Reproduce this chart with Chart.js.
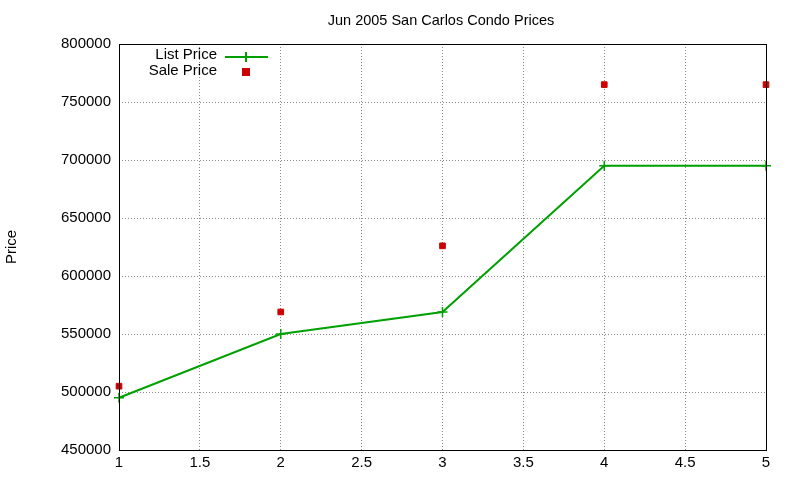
<!DOCTYPE html>
<html><head><meta charset="utf-8">
<script src="https://cdn.jsdelivr.net/npm/chart.js@4"></script>
<style>html,body{margin:0;padding:0;background:#fff}#w{width:800px;height:480px}</style>
</head><body><div id="w"><canvas id="c"></canvas></div>
<script>
const xValues=[1,2,3,4,5];
const listPrice=[495000,550000,569000,695000,695000];
const salePrice=[505000,569000,626000,765000,765000];
const yTicks=[450000,500000,550000,600000,650000,700000,750000,800000];
const xTicks=[1,1.5,2,2.5,3,3.5,4,4.5,5];
const F="'Liberation Sans', Arial, sans-serif";
const deco={id:'deco',afterDraw(ch){
 const c=ch.ctx,a=ch.chartArea;
 c.save();
 c.strokeStyle='#000';c.lineWidth=1;c.strokeRect(a.left+0.5,a.top+0.5,a.right-a.left,a.bottom-a.top);
 c.fillStyle='#000';c.font='14.5px '+F;c.textAlign='center';c.textBaseline='middle';
 c.fillText('Jun 2005 San Carlos Condo Prices',441,21);
 c.translate(12,247);c.rotate(-Math.PI/2);c.font='15px '+F;c.fillText('Price',0,0);
 c.restore();c.save();
 c.font='15px '+F;c.textAlign='right';c.textBaseline='middle';c.fillStyle='#000';
 c.fillText('List Price',217,55);c.fillText('Sale Price',217,71);
 c.strokeStyle='#00a000';c.lineWidth=2;c.beginPath();c.moveTo(225,57);c.lineTo(268,57);
 c.moveTo(246,52);c.lineTo(246,62);c.stroke();
 c.fillStyle='#cc0000';c.fillRect(242,68,8,8);
 c.restore();
}};
new Chart(document.getElementById('c'),{
 data:{datasets:[
  {type:'line',label:'List Price',data:xValues.map((x,i)=>({x,y:listPrice[i]})),borderColor:'#00a000',backgroundColor:'#00a000',borderWidth:2,pointStyle:'cross',pointRadius:5,pointBorderWidth:1.5,tension:0,clip:false},
  {type:'scatter',label:'Sale Price',data:xValues.map((x,i)=>({x,y:salePrice[i]})),backgroundColor:'#cc0000',borderColor:'#cc0000',pointStyle:'rect',pointRadius:4,clip:false}
 ]},
 plugins:[deco],
 options:{responsive:true,maintainAspectRatio:false,animation:false,
  layout:{padding:{top:44,right:34,left:0,bottom:0}},
  plugins:{legend:{display:false},tooltip:{enabled:false}},
  scales:{
   x:{type:'linear',min:1,max:5,afterBuildTicks:s=>{s.ticks=xTicks.map(v=>({value:v}))},
    afterFit:s=>{s.height=30},
    grid:{color:'#888',drawTicks:false},border:{display:false,dash:[1,2]},
    ticks:{color:'#000',font:{family:F,size:15},padding:4,maxRotation:0,callback:v=>String(v)}},
   y:{min:450000,max:800000,afterBuildTicks:s=>{s.ticks=yTicks.map(v=>({value:v}))},
    afterFit:s=>{s.width=119},
    grid:{color:'#888',drawTicks:false},border:{display:false,dash:[1,2]},
    ticks:{color:'#000',font:{family:F,size:15},padding:8,callback:v=>String(v)}}
  }}
});
</script></body></html>
